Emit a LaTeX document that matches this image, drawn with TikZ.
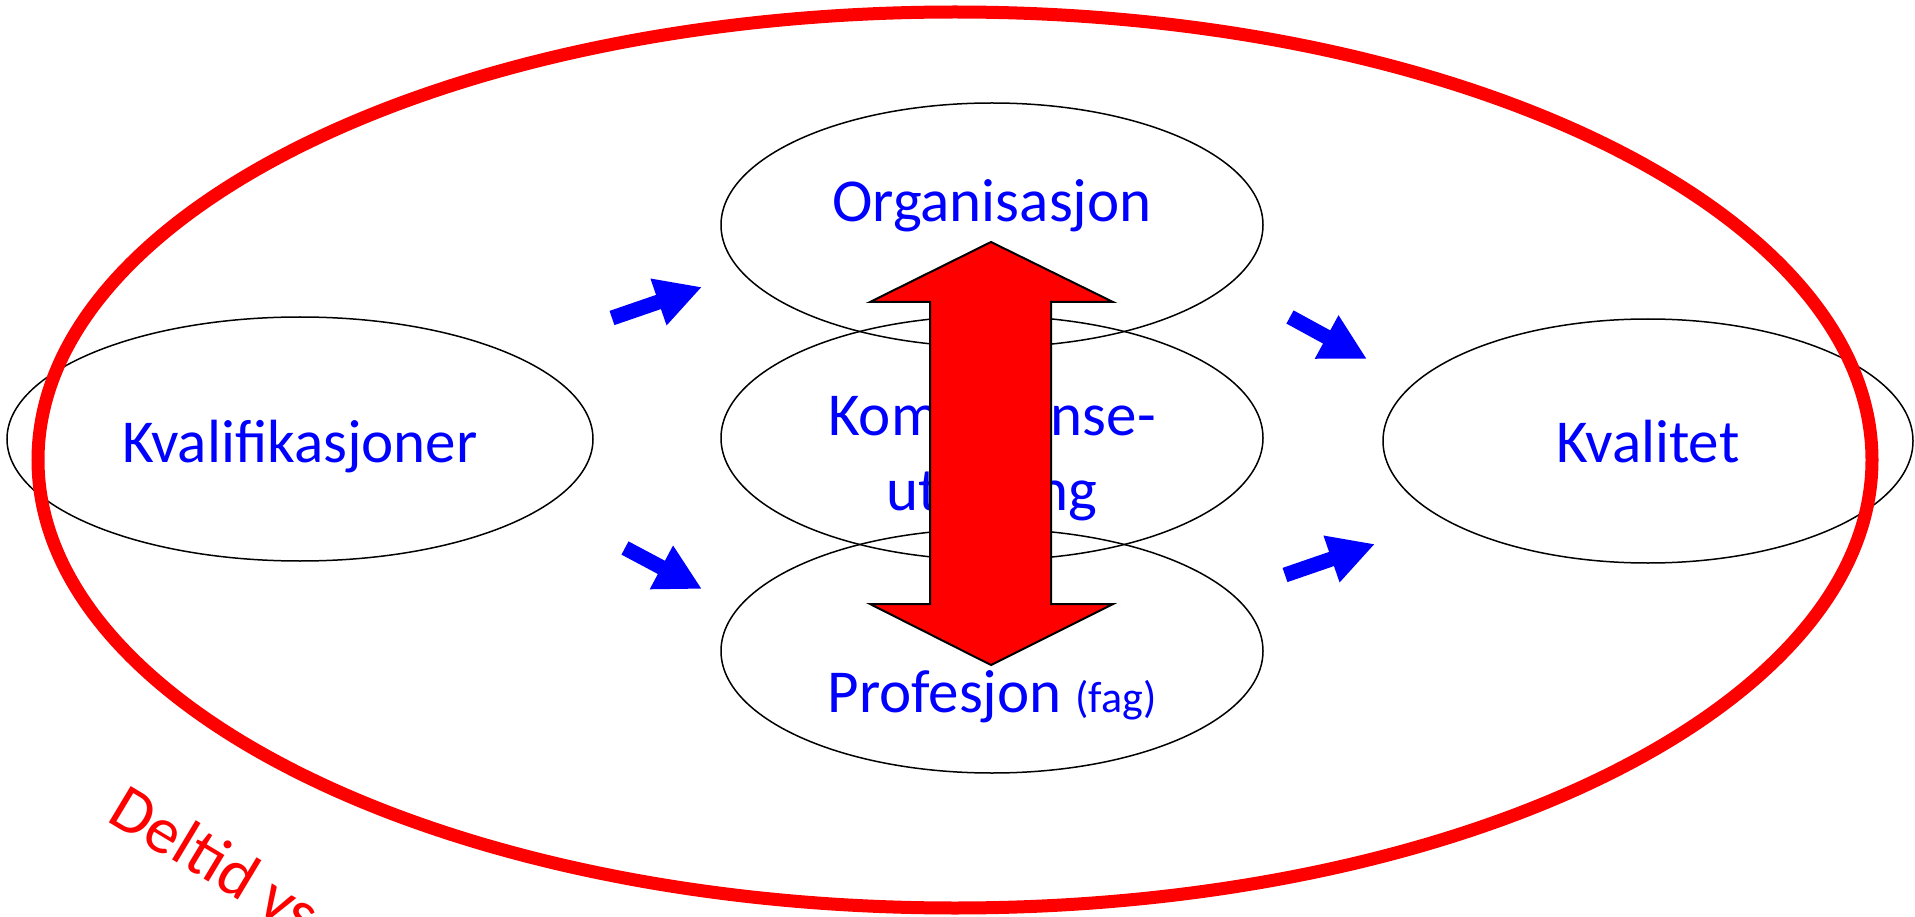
\documentclass[tikz,border=0pt]{standalone}
\usepackage{fontspec}
\setmainfont{Carlito}
\usetikzlibrary{shapes.geometric}
\usetikzlibrary{arrows.meta}

\begin{document}
\begin{tikzpicture}[
    x=1pt, y=-1pt,
    oval/.style={draw,ellipse,line width=1.5pt,inner sep=0pt,minimum height=244pt},
    ovaltext/.style={text=blue,inner sep=0pt,anchor=base,align=center,font=\fontsize{61}{75}\selectfont},
    ring/.style={draw=red,ellipse,line width=13pt,inner sep=0pt},
    pusharrow/.style={draw=blue,line width=15pt,-{Triangle[length=46pt,width=46pt]}},
    bigarrow/.style={draw=black,fill=red,line width=2pt,line join=miter}
    ]

    \useasboundingbox (0,0) rectangle (1915,917);

    % the five ovals
    \node[oval, minimum width=586pt] (kvalif) at (300,439) {};
    \node[oval, minimum width=542pt] (org) at (992,225) {};
    \node[oval, minimum width=542pt] (komp) at (992,438) {};
    \node[oval, minimum width=542pt] (prof) at (992,651) {};
    \node[oval, minimum width=530pt] (kval) at (1648,441) {};

    \node[ovaltext] (kvaliftxt) at (300,462) {Kvalifikasjoner};
    \node[ovaltext] (orgtxt) at (992,222) {Organisasjon};
    \node[ovaltext] (komptxt) at (992,510) {Kompetanse-\\utvikling};
    \node[ovaltext] (proftxt) at (992,712) {Profesjon {\fontsize{44}{52}\selectfont (fag)}};
    \node[ovaltext] (kvaltxt) at (1648,462) {Kvalitet};

    % frame
    \node[ring, minimum width=1834pt, minimum height=896pt] (frame) at (955,460) {};
    \node[text=red, inner sep=0pt, anchor=base west, rotate=-31,
        font=\fontsize{66}{80}\selectfont] (deltid) at (105,820) {Deltid vs};

    % blue arrows
    \foreach \i/\xa/\ya/\xb/\yb in {1/612/318/702/287, 2/625/548/702/589,
        3/1290/317/1367/359, 4/1285/575/1375/544} {
        \coordinate (tail\i) at (\xa,\ya);
        \coordinate (tip\i) at (\xb,\yb);
        \draw[pusharrow] (tail\i) -- (tip\i);
    }

    % double arrow
    \draw[bigarrow] (991,242) -- (1113,302) -- (1051,302) -- (1051,604)
        -- (1113,604) -- (991,665) -- (870,604) -- (930,604)
        -- (930,302) -- (870,302) -- cycle;

\end{tikzpicture}
\end{document}
